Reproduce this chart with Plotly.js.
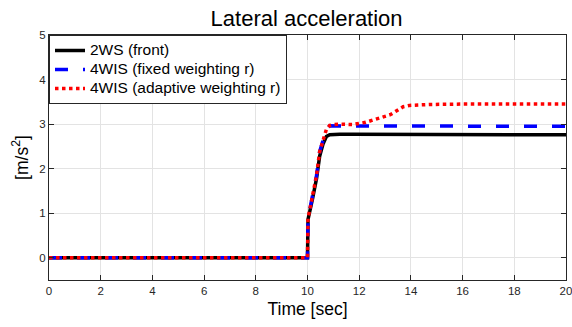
<!DOCTYPE html>
<html>
<head>
<meta charset="utf-8">
<script src="https://cdn.plot.ly/plotly-3.0.1.min.js"></script>
<style>
  html, body { margin: 0; padding: 0; background: #fff; }
  #chart { width: 572px; height: 327px; }
</style>
</head>
<body>
<div id="chart"></div>
<script>
const time = [0, 10, 10.02, 10.1, 10.2, 10.35, 10.47, 10.6, 10.73, 10.86, 11, 11.25, 11.75, 12.25, 12.75, 13.2, 13.45, 13.7, 13.95, 14.7, 16, 18, 20];
const ws2Front = [0, 0, 0.86, 1.06, 1.34, 1.78, 2.28, 2.55, 2.72, 2.76, 2.77, 2.77, 2.77, 2.77, 2.77, 2.77, 2.77, 2.77, 2.77, 2.77, 2.76, 2.76, 2.76];
const wis4Fixed = [0, 0, 0.88, 1.1, 1.4, 1.85, 2.38, 2.65, 2.88, 2.96, 2.96, 2.95, 2.95, 2.95, 2.95, 2.95, 2.95, 2.95, 2.95, 2.95, 2.95, 2.95, 2.95];
const wis4Adaptive = [0, 0, 0.88, 1.1, 1.4, 1.85, 2.38, 2.65, 2.88, 2.97, 2.99, 3.0, 2.99, 3.04, 3.12, 3.21, 3.30, 3.39, 3.42, 3.44, 3.45, 3.45, 3.45];
const seriesNames = ['2WS (front)', '4WIS (fixed weighting r)', '4WIS (adaptive weighting r)'];
const xTicks = [0, 2, 4, 6, 8, 10, 12, 14, 16, 18, 20];
const yTicks = [0, 1, 2, 3, 4, 5];

const font = 'Liberation Sans, Arial, sans-serif';
const legendLabel = s => '<span style="font-size:15.5px">' + s + '</span>';
const traces = [
  {x: time, y: ws2Front, name: legendLabel(seriesNames[0]), mode: 'lines',
   line: {color: '#000000', width: 3.5}},
  {x: time, y: wis4Fixed, name: legendLabel(seriesNames[1]), mode: 'lines',
   line: {color: '#0000ff', width: 3.5, dash: '13px,15px'}},
  {x: time, y: wis4Adaptive, name: legendLabel(seriesNames[2]), mode: 'lines',
   line: {color: '#ff0000', width: 3.5, dash: 'dot'}}
];
const axisCommon = {
  showline: true, linecolor: '#262626', linewidth: 1, mirror: 'ticks',
  ticks: 'inside', ticklen: 5, tickcolor: '#262626',
  showgrid: true, gridcolor: '#e3e3e3', gridwidth: 1,
  zeroline: false, ticklabeloverflow: 'allow',
  tickfont: {family: font, size: 11.5, color: '#262626'}
};
const layout = {
  width: 572, height: 327,
  margin: {l: 49, r: 6, t: 35, b: 47},
  paper_bgcolor: '#ffffff', plot_bgcolor: '#ffffff',
  title: {text: 'Lateral acceleration', x: 0.536, xanchor: 'center', y: 0.945, yanchor: 'middle',
          font: {family: font, size: 22, color: '#000000'}},
  xaxis: Object.assign({}, axisCommon, {
    range: [0, 20], tickvals: xTicks, ticktext: xTicks.map(String),
    title: {text: 'Time [sec]', font: {family: font, size: 17.5, color: '#000000'}, standoff: 6}
  }),
  yaxis: Object.assign({}, axisCommon, {
    range: [-0.5, 5], tickvals: yTicks, ticktext: yTicks.map(String),
    title: {text: '[m/s<sup>2</sup>]', font: {family: font, size: 17.5, color: '#000000'}, standoff: 6}
  }),
  showlegend: true,
  legend: {x: 0, y: 1, xanchor: 'left', yanchor: 'top',
           bgcolor: '#ffffff', bordercolor: '#262626', borderwidth: 1,
           font: {family: font, size: 12, color: '#000000'},
           tracegroupgap: 0, itemwidth: 30}
};
Plotly.newPlot('chart', traces, layout, {staticPlot: true, displayModeBar: false});
</script>
</body>
</html>
